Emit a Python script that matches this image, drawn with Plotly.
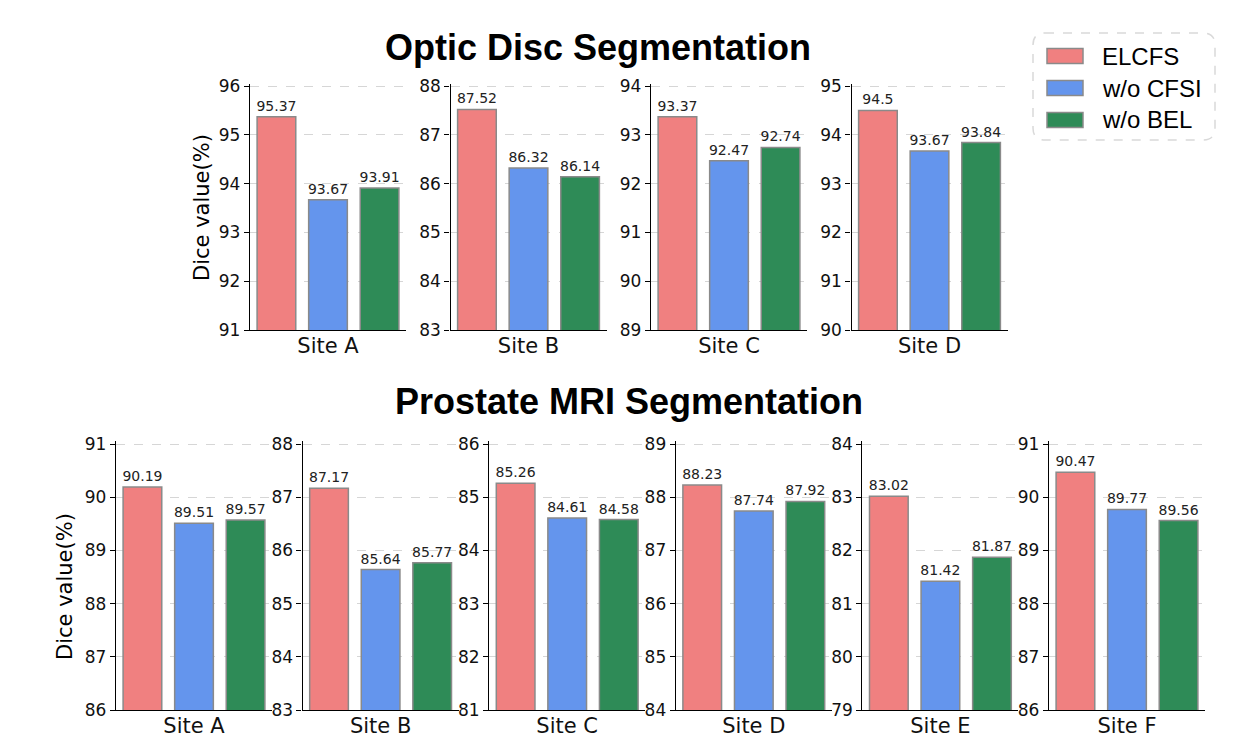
import plotly.graph_objects as go

# ---------------- data ----------------
methods = ["ELCFS", "w/o CFSI", "w/o BEL"]
colors = ["#F08080", "#6495ED", "#2E8B57"]

od_sites = ["Site A", "Site B", "Site C", "Site D"]
od_elcfs = [95.37, 87.52, 93.37, 94.5]
od_cfsi = [93.67, 86.32, 92.47, 93.67]
od_bel = [93.91, 86.14, 92.74, 93.84]
od_ymin = [91, 83, 89, 90]

pr_sites = ["Site A", "Site B", "Site C", "Site D", "Site E", "Site F"]
pr_elcfs = [90.19, 87.17, 85.26, 88.23, 83.02, 90.47]
pr_cfsi = [89.51, 85.64, 84.61, 87.74, 81.42, 89.77]
pr_bel = [89.57, 85.77, 84.58, 87.92, 81.87, 89.56]
pr_ymin = [86, 83, 81, 84, 79, 86]

y_span = 5
W, H = 1245, 753
EXTRA = 0.05  # small headroom so the top gridline is drawn

fig = go.Figure()
layout = {}


def px_x(p):
    return p / W


def px_y(p):
    return 1 - p / H


def add_panel(idx, x0, top, bottom, site, vals, ymin):
    xa = "xaxis" if idx == 1 else f"xaxis{idx}"
    ya = "yaxis" if idx == 1 else f"yaxis{idx}"
    xr = "x" if idx == 1 else f"x{idx}"
    yr = "y" if idx == 1 else f"y{idx}"
    ppu = (bottom - top) / y_span
    top_ext = top - EXTRA * ppu
    for j, m in enumerate(methods):
        fig.add_trace(go.Bar(
            x=[j], y=[vals[j]], width=0.75, xaxis=xr, yaxis=yr,
            name=m, showlegend=False,
            marker=dict(color=colors[j], line=dict(color="#8a8a8a", width=1.5)),
            text=[str(vals[j])], textposition="outside", cliponaxis=False,
            constraintext="none",
            textfont=dict(family="DejaVu Sans", size=14, color="#222222"),
            hoverinfo="skip",
        ))
    layout[xa] = dict(
        domain=[px_x(x0), px_x(x0 + 156)], anchor=yr, automargin=False,
        range=[-0.5125, 2.5125], tickvals=[1], ticktext=[site],
        ticks="", ticklabelstandoff=-3,
        showline=True, linecolor="black", linewidth=1.3,
        showgrid=False, zeroline=False, fixedrange=True,
        tickfont=dict(family="DejaVu Sans", size=21, color="#111111"),
    )
    layout[ya] = dict(
        domain=[px_y(bottom), px_y(top_ext)], anchor=xr, automargin=False,
        range=[ymin, ymin + y_span + EXTRA], tickvals=list(range(ymin, ymin + y_span + 1)),
        ticks="outside", ticklen=5, tickwidth=1.2, tickcolor="black",
        showline=True, linecolor="black", linewidth=1.3,
        showgrid=True, gridcolor="#d6d6d6", griddash="dash", gridwidth=1,
        zeroline=False, fixedrange=True,
        tickfont=dict(family="DejaVu Sans", size=17, color="#111111"),
    )


idx = 1
for i, site in enumerate(od_sites):
    vals = [od_elcfs[i], od_cfsi[i], od_bel[i]]
    add_panel(idx, 250 + 200.5 * i, 86, 330, site, vals, od_ymin[i])
    idx += 1
for i, site in enumerate(pr_sites):
    vals = [pr_elcfs[i], pr_cfsi[i], pr_bel[i]]
    add_panel(idx, 116 + 186.6 * i, 444, 710, site, vals, pr_ymin[i])
    idx += 1

annotations = [
    dict(text="<b>Optic Disc Segmentation</b>", x=px_x(598), y=px_y(48),
         xref="paper", yref="paper", showarrow=False, xanchor="center", yanchor="middle",
         font=dict(family="Liberation Sans, Arial", size=36, color="black")),
    dict(text="<b>Prostate MRI Segmentation</b>", x=px_x(629), y=px_y(401),
         xref="paper", yref="paper", showarrow=False, xanchor="center", yanchor="middle",
         font=dict(family="Liberation Sans, Arial", size=36, color="black")),
    dict(text="Dice value(%)", x=px_x(202), y=px_y(208), textangle=-90,
         xref="paper", yref="paper", showarrow=False, xanchor="center", yanchor="middle",
         font=dict(family="DejaVu Sans", size=21, color="black")),
    dict(text="Dice value(%)", x=px_x(65), y=px_y(587), textangle=-90,
         xref="paper", yref="paper", showarrow=False, xanchor="center", yanchor="middle",
         font=dict(family="DejaVu Sans", size=21, color="black")),
]

# legend box (rounded, dashed)
lx0, lx1, ly0, ly1, r = 1033, 1215, 33, 140, 12
rx, ry = r / W, r / H
X0, X1, Y0, Y1 = px_x(lx0), px_x(lx1), px_y(ly1), px_y(ly0)
path = (f"M{X0+rx},{Y1} L{X1-rx},{Y1} Q{X1},{Y1} {X1},{Y1-ry} "
        f"L{X1},{Y0+ry} Q{X1},{Y0} {X1-rx},{Y0} L{X0+rx},{Y0} "
        f"Q{X0},{Y0} {X0},{Y0+ry} L{X0},{Y1-ry} Q{X0},{Y1} {X0+rx},{Y1} Z")
shapes = [dict(type="path", path=path, xref="paper", yref="paper",
               line=dict(color="#d9d9d9", width=1.5, dash="dash"), fillcolor="white", layer="below")]
for j, m in enumerate(methods):
    cy = 56 + 32 * j
    shapes.append(dict(type="rect", xref="paper", yref="paper",
                       x0=px_x(1047), x1=px_x(1083), y0=px_y(cy + 7.5), y1=px_y(cy - 7.5),
                       fillcolor=colors[j], line=dict(color="#8a8a8a", width=1.5)))
    annotations.append(dict(text=m, x=px_x(1100), y=px_y(cy), xref="paper", yref="paper",
                            showarrow=False, xanchor="left", yanchor="middle",
                            font=dict(family="Liberation Sans, Arial", size=24, color="black")))

fig.update_layout(
    width=W, height=H, autosize=False,
    margin=dict(l=0, r=0, t=0, b=0, pad=0, autoexpand=False),
    paper_bgcolor="white", plot_bgcolor="white",
    barmode="overlay", showlegend=False,
    annotations=annotations, shapes=shapes,
    **layout,
)

fig.write_html(
    "out.html",
    config={"displayModeBar": False},
    post_script=(
        "document.documentElement.style.overflow='hidden';"
        "document.body.style.margin='0';document.body.style.overflow='hidden';"
        "var d=document.getElementById('{plot_id}');"
        "d.style.position='fixed';d.style.top='0px';d.style.left='0px';"
    ),
)
